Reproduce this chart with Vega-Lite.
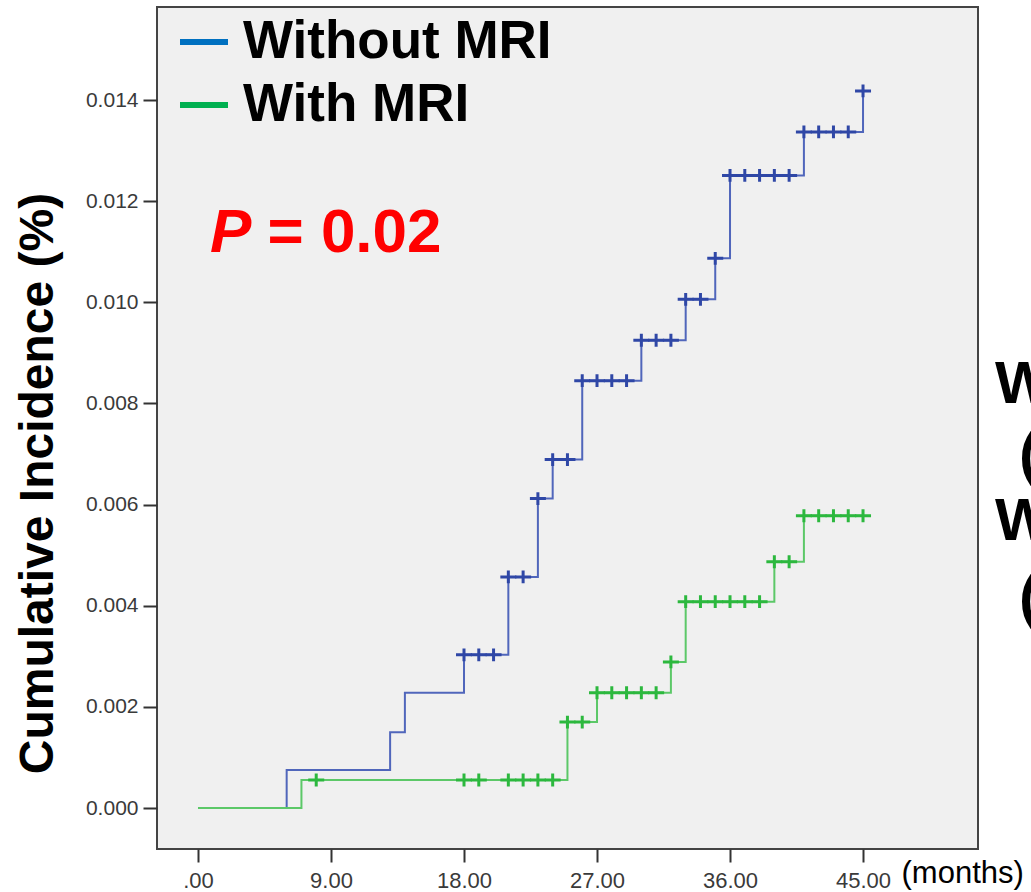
{
  "$schema": "https://vega.github.io/schema/vega-lite/v6.json",
  "width": 821,
  "height": 842,
  "autosize": {"type": "none"},
  "padding": {"left": 157, "top": 7, "right": 53, "bottom": 43},
  "background": "white",
  "config": {
    "view": {"fill": "#f0f0f0", "stroke": "#444444", "strokeWidth": 2},
    "font": "Liberation Sans",
    "axis": {"grid": false, "domain": false, "tickColor": "#333333", "tickWidth": 2, "labelFont": "Liberation Sans", "labelColor": "#3a3a3a"}
  },
  "datasets": {
    "curves": [
      {"group": "Without MRI", "month": 0, "inc": 0},
      {"group": "Without MRI", "month": 6, "inc": 0.00075},
      {"group": "Without MRI", "month": 13, "inc": 0.0015},
      {"group": "Without MRI", "month": 14, "inc": 0.00228},
      {"group": "Without MRI", "month": 18, "inc": 0.00303},
      {"group": "Without MRI", "month": 21, "inc": 0.00457},
      {"group": "Without MRI", "month": 23, "inc": 0.00612},
      {"group": "Without MRI", "month": 24, "inc": 0.00689},
      {"group": "Without MRI", "month": 26, "inc": 0.00845},
      {"group": "Without MRI", "month": 30, "inc": 0.00925},
      {"group": "Without MRI", "month": 33, "inc": 0.01006},
      {"group": "Without MRI", "month": 35, "inc": 0.01087},
      {"group": "Without MRI", "month": 36, "inc": 0.01251},
      {"group": "Without MRI", "month": 41, "inc": 0.01337},
      {"group": "Without MRI", "month": 45, "inc": 0.01418},
      {"group": "With MRI", "month": 0, "inc": 0},
      {"group": "With MRI", "month": 7, "inc": 0.000554},
      {"group": "With MRI", "month": 25, "inc": 0.0017},
      {"group": "With MRI", "month": 27, "inc": 0.00228},
      {"group": "With MRI", "month": 32, "inc": 0.00289},
      {"group": "With MRI", "month": 33, "inc": 0.00408},
      {"group": "With MRI", "month": 39, "inc": 0.00487},
      {"group": "With MRI", "month": 41, "inc": 0.00578},
      {"group": "With MRI", "month": 45, "inc": 0.00578}
    ],
    "censored": [
      {"group": "Without MRI", "month": 18, "inc": 0.00303},
      {"group": "Without MRI", "month": 19, "inc": 0.00303},
      {"group": "Without MRI", "month": 20, "inc": 0.00303},
      {"group": "Without MRI", "month": 21, "inc": 0.00457},
      {"group": "Without MRI", "month": 22, "inc": 0.00457},
      {"group": "Without MRI", "month": 23, "inc": 0.00612},
      {"group": "Without MRI", "month": 24, "inc": 0.00689},
      {"group": "Without MRI", "month": 25, "inc": 0.00689},
      {"group": "Without MRI", "month": 26, "inc": 0.00845},
      {"group": "Without MRI", "month": 27, "inc": 0.00845},
      {"group": "Without MRI", "month": 28, "inc": 0.00845},
      {"group": "Without MRI", "month": 29, "inc": 0.00845},
      {"group": "Without MRI", "month": 30, "inc": 0.00925},
      {"group": "Without MRI", "month": 31, "inc": 0.00925},
      {"group": "Without MRI", "month": 32, "inc": 0.00925},
      {"group": "Without MRI", "month": 33, "inc": 0.01006},
      {"group": "Without MRI", "month": 34, "inc": 0.01006},
      {"group": "Without MRI", "month": 35, "inc": 0.01087},
      {"group": "Without MRI", "month": 36, "inc": 0.01251},
      {"group": "Without MRI", "month": 37, "inc": 0.01251},
      {"group": "Without MRI", "month": 38, "inc": 0.01251},
      {"group": "Without MRI", "month": 39, "inc": 0.01251},
      {"group": "Without MRI", "month": 40, "inc": 0.01251},
      {"group": "Without MRI", "month": 41, "inc": 0.01337},
      {"group": "Without MRI", "month": 42, "inc": 0.01337},
      {"group": "Without MRI", "month": 43, "inc": 0.01337},
      {"group": "Without MRI", "month": 44, "inc": 0.01337},
      {"group": "Without MRI", "month": 45, "inc": 0.01418},
      {"group": "With MRI", "month": 8, "inc": 0.000554},
      {"group": "With MRI", "month": 18, "inc": 0.000554},
      {"group": "With MRI", "month": 19, "inc": 0.000554},
      {"group": "With MRI", "month": 21, "inc": 0.000554},
      {"group": "With MRI", "month": 22, "inc": 0.000554},
      {"group": "With MRI", "month": 23, "inc": 0.000554},
      {"group": "With MRI", "month": 24, "inc": 0.000554},
      {"group": "With MRI", "month": 25, "inc": 0.0017},
      {"group": "With MRI", "month": 26, "inc": 0.0017},
      {"group": "With MRI", "month": 27, "inc": 0.00228},
      {"group": "With MRI", "month": 28, "inc": 0.00228},
      {"group": "With MRI", "month": 29, "inc": 0.00228},
      {"group": "With MRI", "month": 30, "inc": 0.00228},
      {"group": "With MRI", "month": 31, "inc": 0.00228},
      {"group": "With MRI", "month": 32, "inc": 0.00289},
      {"group": "With MRI", "month": 33, "inc": 0.00408},
      {"group": "With MRI", "month": 34, "inc": 0.00408},
      {"group": "With MRI", "month": 35, "inc": 0.00408},
      {"group": "With MRI", "month": 36, "inc": 0.00408},
      {"group": "With MRI", "month": 37, "inc": 0.00408},
      {"group": "With MRI", "month": 38, "inc": 0.00408},
      {"group": "With MRI", "month": 39, "inc": 0.00487},
      {"group": "With MRI", "month": 40, "inc": 0.00487},
      {"group": "With MRI", "month": 41, "inc": 0.00578},
      {"group": "With MRI", "month": 42, "inc": 0.00578},
      {"group": "With MRI", "month": 43, "inc": 0.00578},
      {"group": "With MRI", "month": 44, "inc": 0.00578},
      {"group": "With MRI", "month": 45, "inc": 0.00578}
    ]
  },
  "layer": [
    {
      "data": {"name": "curves"},
      "transform": [{"filter": "datum.month == 0"}],
      "mark": {"type": "line", "strokeWidth": 6},
      "encoding": {
        "x": {
          "field": "month", "type": "quantitative",
          "scale": {"domain": [-2.774, 52.78], "nice": false, "zero": false},
          "axis": {
            "values": [0, 9, 18, 27, 36, 45],
            "labelExpr": "datum.value == 0 ? '.00' : format(datum.value, '.2f')",
            "labelFontSize": 22, "tickSize": 13, "labelPadding": 8,
            "title": "(months)", "titleFont": "Liberation Sans", "titleFontSize": 31, "titleFontWeight": "normal",
            "titleColor": "#000000", "titleX": 744, "titleY": 33, "titleAlign": "left", "titleBaseline": "alphabetic"
          }
        },
        "y": {
          "field": "inc", "type": "quantitative",
          "scale": {"domain": [-0.00081, 0.01584], "nice": false, "zero": false},
          "axis": {
            "values": [0, 0.002, 0.004, 0.006, 0.008, 0.01, 0.012, 0.014],
            "format": ".3f", "labelFontSize": 21, "tickSize": 14, "labelPadding": 5,
            "title": "Cumulative Incidence (%)", "titleFont": "Liberation Sans", "titleFontSize": 48, "titleFontWeight": "bold",
            "titleColor": "#000000", "titleX": -105, "titleY": 476, "titleAngle": 270, "titleAlign": "center", "titleBaseline": "alphabetic"
          }
        },
        "color": {
          "field": "group", "type": "nominal",
          "scale": {"domain": ["Without MRI", "With MRI"], "range": ["#0070c0", "#00b050"]},
          "legend": {
            "orient": "none", "legendX": 20, "legendY": 8, "title": null, "padding": 0,
            "symbolType": "stroke", "symbolSize": 2304, "symbolStrokeWidth": 6,
            "labelFontSize": 53, "labelFontWeight": "bold", "labelFont": "Liberation Sans", "labelColor": "#000000",
            "labelOffset": 12, "rowPadding": 9, "labelLimit": 800
          }
        }
      }
    },
    {
      "data": {"name": "curves"},
      "transform": [{"filter": "datum.group == 'Without MRI'"}],
      "mark": {"type": "line", "interpolate": "step-after", "stroke": "#5066bb", "strokeWidth": 2},
      "encoding": {
        "x": {"field": "month", "type": "quantitative"},
        "y": {"field": "inc", "type": "quantitative"}
      }
    },
    {
      "data": {"name": "curves"},
      "transform": [{"filter": "datum.group == 'With MRI'"}],
      "mark": {"type": "line", "interpolate": "step-after", "stroke": "#5cc868", "strokeWidth": 2},
      "encoding": {
        "x": {"field": "month", "type": "quantitative"},
        "y": {"field": "inc", "type": "quantitative"}
      }
    },
    {
      "data": {"name": "censored"},
      "transform": [{"filter": "datum.group == 'Without MRI'"}],
      "mark": {"type": "point", "shape": "M-1,0H1M0,-0.8V0.8", "size": 256, "filled": false, "stroke": "#2f47a6", "strokeWidth": 3, "opacity": 1},
      "encoding": {
        "x": {"field": "month", "type": "quantitative"},
        "y": {"field": "inc", "type": "quantitative"}
      }
    },
    {
      "data": {"name": "censored"},
      "transform": [{"filter": "datum.group == 'With MRI'"}],
      "mark": {"type": "point", "shape": "M-1,0H1M0,-0.8V0.8", "size": 256, "filled": false, "stroke": "#2cb83e", "strokeWidth": 3, "opacity": 1},
      "encoding": {
        "x": {"field": "month", "type": "quantitative"},
        "y": {"field": "inc", "type": "quantitative"}
      }
    },
    {
      "data": {"values": [{}]},
      "mark": {"type": "text", "text": "P", "font": "Liberation Sans", "fontSize": 62, "fontWeight": "bold", "fontStyle": "italic", "color": "#ff0000", "align": "left", "baseline": "alphabetic"},
      "encoding": {"x": {"datum": 0.81}, "y": {"datum": 0.01099}}
    },
    {
      "data": {"values": [{}]},
      "mark": {"type": "text", "text": "= 0.02", "font": "Liberation Sans", "fontSize": 62, "fontWeight": "bold", "color": "#ff0000", "align": "left", "baseline": "alphabetic"},
      "encoding": {"x": {"datum": 4.7}, "y": {"datum": 0.01099}}
    },
    {
      "data": {"values": [{}]},
      "mark": {"type": "text", "text": "W", "font": "Liberation Sans", "fontSize": 60, "fontWeight": "bold", "color": "#000000", "align": "left", "baseline": "alphabetic"},
      "encoding": {"x": {"datum": 53.93}, "y": {"datum": 0.00801}}
    },
    {
      "data": {"values": [{}]},
      "mark": {"type": "text", "text": "(", "font": "Liberation Sans", "fontSize": 60, "fontWeight": "bold", "color": "#000000", "align": "left", "baseline": "alphabetic"},
      "encoding": {"x": {"datum": 55.56}, "y": {"datum": 0.0066}}
    },
    {
      "data": {"values": [{}]},
      "mark": {"type": "text", "text": "W", "font": "Liberation Sans", "fontSize": 60, "fontWeight": "bold", "color": "#000000", "align": "left", "baseline": "alphabetic"},
      "encoding": {"x": {"datum": 53.93}, "y": {"datum": 0.0053}}
    },
    {
      "data": {"values": [{}]},
      "mark": {"type": "text", "text": "(", "font": "Liberation Sans", "fontSize": 60, "fontWeight": "bold", "color": "#000000", "align": "left", "baseline": "alphabetic"},
      "encoding": {"x": {"datum": 55.56}, "y": {"datum": 0.00378}}
    }
  ]
}
